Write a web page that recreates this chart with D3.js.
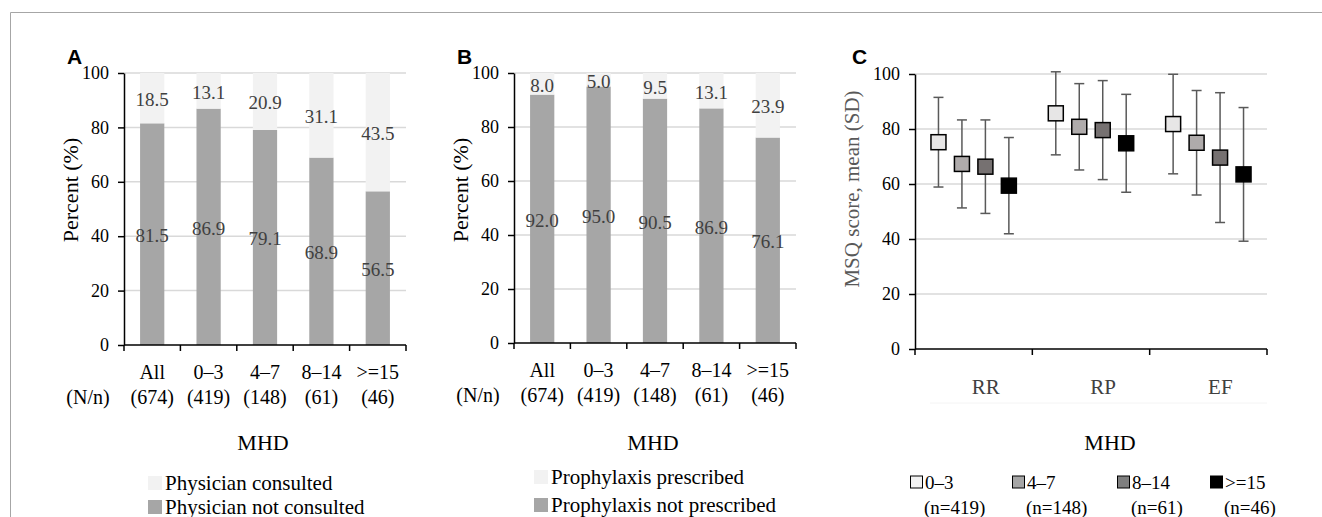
<!DOCTYPE html>
<html>
<head>
<meta charset="utf-8">
<script src="https://cdn.jsdelivr.net/npm/d3@7"></script>
<style>
  body { margin: 0; background: #fff; }
  svg text { font-family: "Liberation Serif", "Times New Roman", serif; }
</style>
</head>
<body>
<div id="chart"></div>
<script>
// ---------------- data ----------------
var groups = ["All", "0–3", "4–7", "8–14", ">=15"];
var groupN = ["(674)", "(419)", "(148)", "(61)", "(46)"];

var consulted = [18.5, 13.1, 20.9, 31.1, 43.5];
var notConsulted = [81.5, 86.9, 79.1, 68.9, 56.5];

var prescribed = [8.0, 5.0, 9.5, 13.1, 23.9];
var notPrescribed = [92.0, 95.0, 90.5, 86.9, 76.1];

var domains = ["RR", "RP", "EF"];
var mhdGroups = ["0–3", "4–7", "8–14", ">=15"];
var mhdN = ["(n=419)", "(n=148)", "(n=61)", "(n=46)"];
var rrMean = [75.2, 67.3, 66.3, 59.4], rrSD = [16.3, 16.0, 17.0, 17.5];
var rpMean = [85.7, 80.8, 79.6, 74.8], rpSD = [15.1, 15.7, 18.0, 17.8];
var efMean = [81.8, 75.0, 69.6, 63.5], efSD = [18.1, 19.0, 23.6, 24.3];

var yTicks = [0, 20, 40, 60, 80, 100];

// ---------------- svg ----------------
var width = 1322, height = 517;
var svg = d3.select("#chart").append("svg")
    .attr("width", width)
    .attr("height", height)
    .attr("font-family", "'Liberation Serif', 'Times New Roman', serif");

// outer frame (top + left)
svg.append("path")
    .attr("d", "M10.5," + height + "V12.5H" + width)
    .attr("fill", "none")
    .attr("stroke", "#a6a6a6")
    .attr("stroke-width", 1);

var darkBar = "#a6a6a6", lightBar = "#f2f2f2", gridCol = "#d9d9d9";

function yAxis(g, y) {
    g.call(d3.axisLeft(y).tickValues(yTicks).tickSize(6).tickSizeOuter(0).tickPadding(9));
    g.attr("font-family", null).attr("font-size", null);
    g.select(".domain").attr("stroke", "#000").attr("stroke-width", 1.5);
    g.selectAll(".tick line").attr("stroke", "#000").attr("stroke-width", 1.5);
    g.selectAll(".tick text")
        .style("font-family", "'Liberation Serif', serif")
        .style("font-size", "18px")
        .attr("fill", "#000");
}

///////////////////////////////////////////////////////////////////////////
////////////////////////////// stacked panels /////////////////////////////
///////////////////////////////////////////////////////////////////////////

function barPanel(o) {
    var g = svg.append("g");

    var x = d3.scaleBand()
        .domain(groups)
        .range([o.left, o.right])
        .paddingInner(0.57)
        .paddingOuter(0.285);

    var y = d3.scaleLinear()
        .domain([0, 100])
        .range([o.bottom, o.top]);

    // gridlines
    g.append("g").selectAll("line")
        .data(yTicks.slice(1))
        .enter().append("line")
            .attr("x1", o.left).attr("x2", o.right)
            .attr("y1", d => y(d)).attr("y2", d => y(d))
            .attr("stroke", gridCol)
            .attr("stroke-width", 1.5);

    var rows = groups.map((d, i) => ({ g: d, low: o.low[i], high: o.high[i] }));

    // bottom (dark) segment
    g.append("g").selectAll("rect")
        .data(rows)
        .enter().append("rect")
            .attr("x", d => x(d.g))
            .attr("width", x.bandwidth())
            .attr("y", d => y(d.low))
            .attr("height", d => y(0) - y(d.low))
            .attr("fill", darkBar);

    // top (light) segment
    g.append("g").selectAll("rect")
        .data(rows)
        .enter().append("rect")
            .attr("x", d => x(d.g))
            .attr("width", x.bandwidth())
            .attr("y", d => y(d.low + d.high))
            .attr("height", d => y(d.low) - y(d.low + d.high))
            .attr("fill", lightBar);

    // value labels
    g.append("g").selectAll("text")
        .data(rows)
        .enter().append("text")
            .attr("x", d => x(d.g) + x.bandwidth() / 2)
            .attr("y", d => y(d.low + d.high / 2) + 8)
            .attr("text-anchor", "middle")
            .style("font-size", "19px")
            .attr("fill", "#404040")
            .text(d => d.high.toFixed(1));

    g.append("g").selectAll("text")
        .data(rows)
        .enter().append("text")
            .attr("x", d => x(d.g) + x.bandwidth() / 2)
            .attr("y", d => y(d.low / 2) + 8)
            .attr("text-anchor", "middle")
            .style("font-size", "19px")
            .attr("fill", "#404040")
            .text(d => d.low.toFixed(1));

    // axes
    g.append("g").attr("transform", "translate(" + o.left + ",0)").call(yAxis, y);

    g.append("line")
        .attr("x1", o.left).attr("x2", o.right)
        .attr("y1", o.bottom).attr("y2", o.bottom)
        .attr("stroke", "#000").attr("stroke-width", 1.5);

    // ticks sit on band edges
    g.append("g").selectAll("line")
        .data(d3.range(groups.length + 1))
        .enter().append("line")
            .attr("x1", i => o.left + i * x.step()).attr("x2", i => o.left + i * x.step())
            .attr("y1", o.bottom).attr("y2", o.bottom + 6)
            .attr("stroke", "#000").attr("stroke-width", 1.5);

    // category labels
    g.append("g").selectAll("text")
        .data(groups)
        .enter().append("text")
            .attr("x", d => x(d) + x.bandwidth() / 2)
            .attr("y", o.bottom + 34)
            .attr("text-anchor", "middle")
            .style("font-size", "20px")
            .attr("fill", "#000")
            .text(d => d);

    g.append("g").selectAll("text")
        .data(groupN)
        .enter().append("text")
            .attr("x", (d, i) => x(groups[i]) + x.bandwidth() / 2)
            .attr("y", o.bottom + 59)
            .attr("text-anchor", "middle")
            .style("font-size", "20px")
            .attr("fill", "#000")
            .text(d => d);

    g.append("text")
        .attr("x", o.left - 36)
        .attr("y", o.bottom + 59)
        .attr("text-anchor", "middle")
        .style("font-size", "20px")
        .text("(N/n)");

    // titles
    g.append("text")
        .attr("transform", "translate(" + (o.left - 46) + ",190) rotate(-90)")
        .attr("text-anchor", "middle")
        .style("font-size", "22px")
        .text("Percent (%)");

    g.append("text")
        .attr("x", (o.left + o.right) / 2 - 2)
        .attr("y", 450)
        .attr("text-anchor", "middle")
        .style("font-size", "22px")
        .text("MHD");

    g.append("text")
        .attr("x", o.left - 57)
        .attr("y", 64)
        .style("font-family", "'Liberation Sans', Arial, sans-serif")
        .style("font-weight", "bold")
        .style("font-size", "21px")
        .text(o.tag);

    // legend
    var leg = g.append("g").selectAll("g")
        .data([{ t: o.legend[0], c: lightBar }, { t: o.legend[1], c: darkBar }])
        .enter().append("g")
            .attr("transform", (d, i) => "translate(" + o.legX + "," + o.legY[i] + ")");
    leg.append("rect")
        .attr("x", 0).attr("y", -7).attr("width", 14).attr("height", 14)
        .attr("fill", d => d.c);
    leg.append("text")
        .attr("x", 17).attr("y", 7)
        .style("font-size", "21px")
        .text(d => d.t);
}

barPanel({
    tag: "A", left: 124, right: 406, top: 73, bottom: 345,
    low: notConsulted, high: consulted,
    legend: ["Physician consulted", "Physician not consulted"],
    legX: 148, legY: [483, 507]
});

barPanel({
    tag: "B", left: 514, right: 796, top: 73, bottom: 343,
    low: notPrescribed, high: prescribed,
    legend: ["Prophylaxis prescribed", "Prophylaxis not prescribed"],
    legX: 534, legY: [477, 505]
});

///////////////////////////////////////////////////////////////////////////
/////////////////////////////// MSQ panel C ///////////////////////////////
///////////////////////////////////////////////////////////////////////////

var cLeft = 915, cRight = 1267, cTop = 74, cBottom = 349;
var markerFill = ["#e7e6e6", "#afabab", "#767171", "#000000"];
var legendFill = ["#f2f2f2", "#a6a6a6", "#7f7f7f", "#000000"];

var gc = svg.append("g");

var xc = d3.scaleBand().domain(domains).range([cLeft, cRight]);
var xi = d3.scalePoint().domain(mhdGroups).range([0, xc.bandwidth()]).padding(1);
var yc = d3.scaleLinear().domain([0, 100]).range([cBottom, cTop]);

gc.append("g").selectAll("line")
    .data(yTicks.slice(1))
    .enter().append("line")
        .attr("x1", cLeft).attr("x2", cRight)
        .attr("y1", d => yc(d)).attr("y2", d => yc(d))
        .attr("stroke", gridCol)
        .attr("stroke-width", 1.5);

var means = [rrMean, rpMean, efMean], sds = [rrSD, rpSD, efSD];
var points = [];
domains.forEach((dm, j) => {
    mhdGroups.forEach((gr, i) => {
        points.push({ dm: dm, gr: gr, i: i, m: means[j][i], sd: sds[j][i] });
    });
});

var pt = gc.append("g").selectAll("g")
    .data(points)
    .enter().append("g")
        .attr("transform", d => "translate(" + (xc(d.dm) + xi(d.gr)) + ",0)");

pt.append("line")
    .attr("x1", 0).attr("x2", 0)
    .attr("y1", d => yc(d.m - d.sd)).attr("y2", d => yc(d.m + d.sd))
    .attr("stroke", "#595959").attr("stroke-width", 1.5);
pt.append("line")
    .attr("x1", -5).attr("x2", 5)
    .attr("y1", d => yc(d.m + d.sd)).attr("y2", d => yc(d.m + d.sd))
    .attr("stroke", "#595959").attr("stroke-width", 1.5);
pt.append("line")
    .attr("x1", -5).attr("x2", 5)
    .attr("y1", d => yc(d.m - d.sd)).attr("y2", d => yc(d.m - d.sd))
    .attr("stroke", "#595959").attr("stroke-width", 1.5);
pt.append("rect")
    .attr("x", -7.5).attr("width", 15)
    .attr("y", d => yc(d.m) - 7.5).attr("height", 15)
    .attr("fill", d => markerFill[d.i])
    .attr("stroke", "#000").attr("stroke-width", 1.5);

gc.append("g").attr("transform", "translate(" + cLeft + ",0)").call(yAxis, yc);

gc.append("line")
    .attr("x1", cLeft).attr("x2", cRight)
    .attr("y1", cBottom).attr("y2", cBottom)
    .attr("stroke", "#000").attr("stroke-width", 1.5);

gc.append("g").selectAll("line")
    .data(d3.range(domains.length + 1))
    .enter().append("line")
        .attr("x1", i => cLeft + i * xc.step()).attr("x2", i => cLeft + i * xc.step())
        .attr("y1", cBottom).attr("y2", cBottom + 6)
        .attr("stroke", "#000").attr("stroke-width", 1.5);

gc.append("g").selectAll("text")
    .data(domains)
    .enter().append("text")
        .attr("x", d => xc(d) + xc.bandwidth() / 2 + 12)
        .attr("y", 394)
        .attr("text-anchor", "middle")
        .style("font-size", "21px")
        .attr("fill", "#404040")
        .text(d => d);

gc.append("line")
    .attr("x1", 930).attr("x2", cRight)
    .attr("y1", 403).attr("y2", 403)
    .attr("stroke", "#f4f4f4").attr("stroke-width", 1);

gc.append("text")
    .attr("transform", "translate(" + (cLeft - 56) + ",189) rotate(-90)")
    .attr("text-anchor", "middle")
    .style("font-size", "21px")
    .attr("fill", "#595959")
    .text("MSQ score, mean (SD)");

gc.append("text")
    .attr("x", 1110)
    .attr("y", 450)
    .attr("text-anchor", "middle")
    .style("font-size", "22px")
    .text("MHD");

gc.append("text")
    .attr("x", cLeft - 63)
    .attr("y", 64)
    .style("font-family", "'Liberation Sans', Arial, sans-serif")
    .style("font-weight", "bold")
    .style("font-size", "21px")
    .text("C");

var legX = [910, 1012, 1117, 1210];
var lc = gc.append("g").selectAll("g")
    .data(mhdGroups)
    .enter().append("g")
        .attr("transform", (d, i) => "translate(" + legX[i] + ",482)");
lc.append("rect")
    .attr("x", 0.5).attr("y", -6).attr("width", 12).attr("height", 12)
    .attr("fill", (d, i) => legendFill[i])
    .attr("stroke", "#000").attr("stroke-width", 1);
lc.append("text")
    .attr("x", 15).attr("y", 7)
    .style("font-size", "19px")
    .text(d => d);
lc.append("text")
    .attr("x", 14).attr("y", 32)
    .style("font-size", "19px")
    .text((d, i) => mhdN[i]);
</script>
</body>
</html>
